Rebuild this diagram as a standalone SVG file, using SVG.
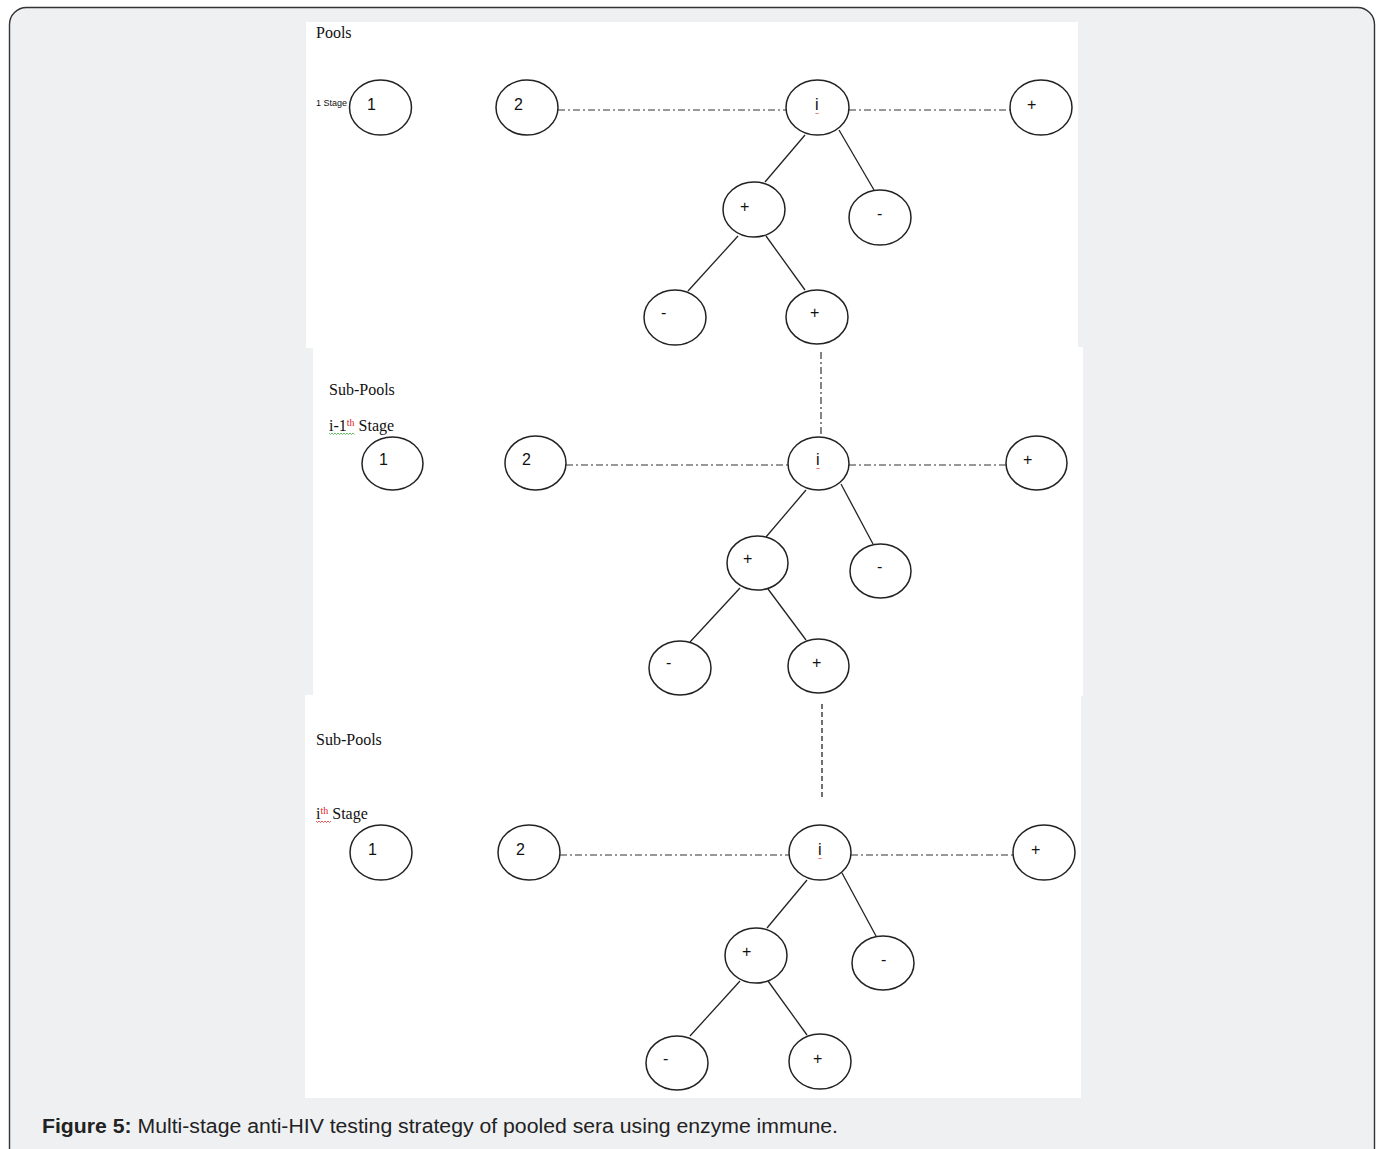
<svg xmlns="http://www.w3.org/2000/svg" width="1380" height="1149" viewBox="0 0 1380 1149">
  <style>
    .node ellipse { fill: #ffffff; stroke: #222222; stroke-width: 1.5; }
    .node text { font-family: "Liberation Sans", Arial, sans-serif; font-size: 16px; fill: #111111; }
    .edge { stroke: #222222; stroke-width: 1.3; fill: none; }
    .dashdot { stroke: #333333; stroke-width: 1.2; fill: none; stroke-dasharray: 7 3 2 3; }
    .dashed { stroke: #333333; stroke-width: 1.4; fill: none; stroke-dasharray: 5 3; }
    .lbl { font-family: "Liberation Serif", "Times New Roman", serif; font-size: 16px; fill: #111111; }
    .sup { font-family: "Liberation Serif", serif; font-size: 10px; fill: #e02020; }
    .small { font-family: "Liberation Sans", Arial, sans-serif; font-size: 9px; fill: #111111; }
    .squig-red { stroke: #e03030; stroke-width: 0.8; fill: none; }
    .squig-green { stroke: #40b040; stroke-width: 0.8; fill: none; }
    .panel { fill: #ffffff; }
    .caption { font-family: "Liberation Sans", Arial, sans-serif; font-size: 20px; fill: #222222; }
  </style>

  <!-- frame -->
  <rect x="9.5" y="7.5" width="1365" height="1160" rx="17" fill="#eff0f2" stroke="#333333" stroke-width="1.4"/>

  <!-- white sheets -->
  <rect class="panel" x="306" y="22" width="772" height="326"/>
  <rect class="panel" x="313" y="347" width="770" height="349"/>
  <rect class="panel" x="305" y="695" width="776" height="403"/>

  <!-- stage labels -->
  <g id="labels">
    <text class="lbl" x="316" y="38">Pools</text>
    <text class="small" x="316" y="106">1 Stage</text>

    <text class="lbl" x="329" y="395">Sub-Pools</text>
    <text class="lbl" x="329" y="431">i-1<tspan class="sup" dy="-5">th</tspan><tspan dy="5"> Stage</tspan></text>
    <path class="squig-green" d="M329 433 l1.5 1.5 l1.5 -1.5 l1.5 1.5 l1.5 -1.5 l1.5 1.5 l1.5 -1.5 l1.5 1.5 l1.5 -1.5 l1.5 1.5 l1.5 -1.5 l1.5 1.5 l1.5 -1.5 l1.5 1.5 l1.5 -1.5 l1.5 1.5 l1.5 -1.5 l1.5 1.5"/>

    <text class="lbl" x="316" y="819">i<tspan class="sup" dy="-5">th</tspan><tspan dy="5"> Stage</tspan></text>
    <text class="lbl" x="316" y="745">Sub-Pools</text>
    <path class="squig-red" d="M316 821 l1.5 1.5 l1.5 -1.5 l1.5 1.5 l1.5 -1.5 l1.5 1.5 l1.5 -1.5 l1.5 1.5 l1.5 -1.5 l1.5 1.5 l1.5 -1.5"/>
  </g>

  <!-- connectors -->
  <g id="connectors">
    <!-- stage 1 -->
    <line class="dashdot" x1="558" y1="110" x2="786" y2="110"/>
    <line class="dashdot" x1="849" y1="110" x2="1010" y2="110"/>
    <line class="edge" x1="805" y1="135" x2="765" y2="182"/>
    <line class="edge" x1="839" y1="130" x2="874" y2="190"/>
    <line class="edge" x1="738" y1="236" x2="688" y2="291"/>
    <line class="edge" x1="766" y1="236" x2="805" y2="290"/>
    <line class="dashdot" x1="821" y1="352" x2="821" y2="438" stroke-width="1.6"/>

    <!-- stage 2 -->
    <line class="dashdot" x1="566" y1="465" x2="788" y2="465"/>
    <line class="dashdot" x1="849" y1="465" x2="1006" y2="465"/>
    <line class="edge" x1="806" y1="490" x2="766" y2="537"/>
    <line class="edge" x1="841" y1="484" x2="873" y2="544"/>
    <line class="edge" x1="740" y1="588" x2="690" y2="642"/>
    <line class="edge" x1="768" y1="589" x2="806" y2="640"/>
    <line class="dashed" x1="822" y1="704" x2="822" y2="800"/>

    <!-- stage 3 -->
    <line class="dashdot" x1="560" y1="855" x2="789" y2="855"/>
    <line class="dashdot" x1="851" y1="855" x2="1013" y2="855"/>
    <line class="edge" x1="807" y1="880" x2="767" y2="928"/>
    <line class="edge" x1="842" y1="873" x2="876" y2="936"/>
    <line class="edge" x1="740" y1="981" x2="690" y2="1036"/>
    <line class="edge" x1="768" y1="981" x2="807" y2="1035"/>
  </g>

  <!-- stage 1 nodes -->
  <g id="s1-n1" class="node"><ellipse cx="380.5" cy="107.5" rx="31" ry="27.5"/><text x="367" y="110">1</text></g>
  <g id="s1-n2" class="node"><ellipse cx="527" cy="107.5" rx="31" ry="27.5"/><text x="514" y="110">2</text></g>
  <g id="s1-ni" class="node"><ellipse cx="817.5" cy="107.5" rx="31.5" ry="27.5"/><text x="815" y="110">i</text><path class="squig-red" d="M815.5 113 l1 1 l1 -1 l1 1"/></g>
  <g id="s1-nplus" class="node"><ellipse cx="1041" cy="107.5" rx="31" ry="27.5"/><text x="1027" y="110">+</text></g>
  <g id="s1-c-plus" class="node"><ellipse cx="754" cy="209.5" rx="31" ry="27.5"/><text x="740" y="212">+</text></g>
  <g id="s1-c-minus" class="node"><ellipse cx="880" cy="217.5" rx="31" ry="27.5"/><text x="877" y="219">-</text></g>
  <g id="s1-g-minus" class="node"><ellipse cx="675" cy="317.5" rx="31" ry="27.5"/><text x="661" y="318">-</text></g>
  <g id="s1-g-plus" class="node"><ellipse cx="817" cy="317" rx="31" ry="27"/><text x="810" y="318">+</text></g>

  <!-- stage 2 nodes -->
  <g id="s2-n1" class="node"><ellipse cx="392.5" cy="463.5" rx="30.5" ry="26.5"/><text x="379" y="465">1</text></g>
  <g id="s2-n2" class="node"><ellipse cx="535.5" cy="463" rx="30.5" ry="27"/><text x="522" y="465">2</text></g>
  <g id="s2-ni" class="node"><ellipse cx="818.5" cy="463.5" rx="30.5" ry="26.5"/><text x="816" y="465">i</text><path class="squig-red" d="M816.5 468 l1 1 l1 -1 l1 1"/></g>
  <g id="s2-nplus" class="node"><ellipse cx="1036.5" cy="463" rx="30.5" ry="27"/><text x="1023" y="465">+</text></g>
  <g id="s2-c-plus" class="node"><ellipse cx="757.5" cy="563" rx="30.5" ry="27"/><text x="743" y="564">+</text></g>
  <g id="s2-c-minus" class="node"><ellipse cx="880.5" cy="571" rx="30.5" ry="27"/><text x="877" y="572">-</text></g>
  <g id="s2-g-minus" class="node"><ellipse cx="680" cy="668" rx="31" ry="27"/><text x="666" y="668">-</text></g>
  <g id="s2-g-plus" class="node"><ellipse cx="818.5" cy="666" rx="30.5" ry="27"/><text x="812" y="668">+</text></g>

  <!-- stage 3 nodes -->
  <g id="s3-n1" class="node"><ellipse cx="381" cy="852.5" rx="31" ry="27.5"/><text x="368" y="855">1</text></g>
  <g id="s3-n2" class="node"><ellipse cx="529" cy="852.5" rx="31" ry="27.5"/><text x="516" y="855">2</text></g>
  <g id="s3-ni" class="node"><ellipse cx="820" cy="852.5" rx="31" ry="27.5"/><text x="818" y="855">i</text><path class="squig-red" d="M818.5 858 l1 1 l1 -1 l1 1"/></g>
  <g id="s3-nplus" class="node"><ellipse cx="1044" cy="852.5" rx="31" ry="27.5"/><text x="1031" y="855">+</text></g>
  <g id="s3-c-plus" class="node"><ellipse cx="756" cy="955.5" rx="31" ry="27.5"/><text x="742" y="957">+</text></g>
  <g id="s3-c-minus" class="node"><ellipse cx="883" cy="963" rx="31" ry="27"/><text x="881" y="965">-</text></g>
  <g id="s3-g-minus" class="node"><ellipse cx="677" cy="1063" rx="31" ry="27"/><text x="663" y="1064">-</text></g>
  <g id="s3-g-plus" class="node"><ellipse cx="820" cy="1061.5" rx="31" ry="27.5"/><text x="813" y="1064">+</text></g>

  <!-- caption -->
  <text class="caption" x="42" y="1133" textLength="796" lengthAdjust="spacingAndGlyphs"><tspan font-weight="bold">Figure 5:</tspan> Multi-stage anti-HIV testing strategy of pooled sera using enzyme immune.</text>
</svg>
